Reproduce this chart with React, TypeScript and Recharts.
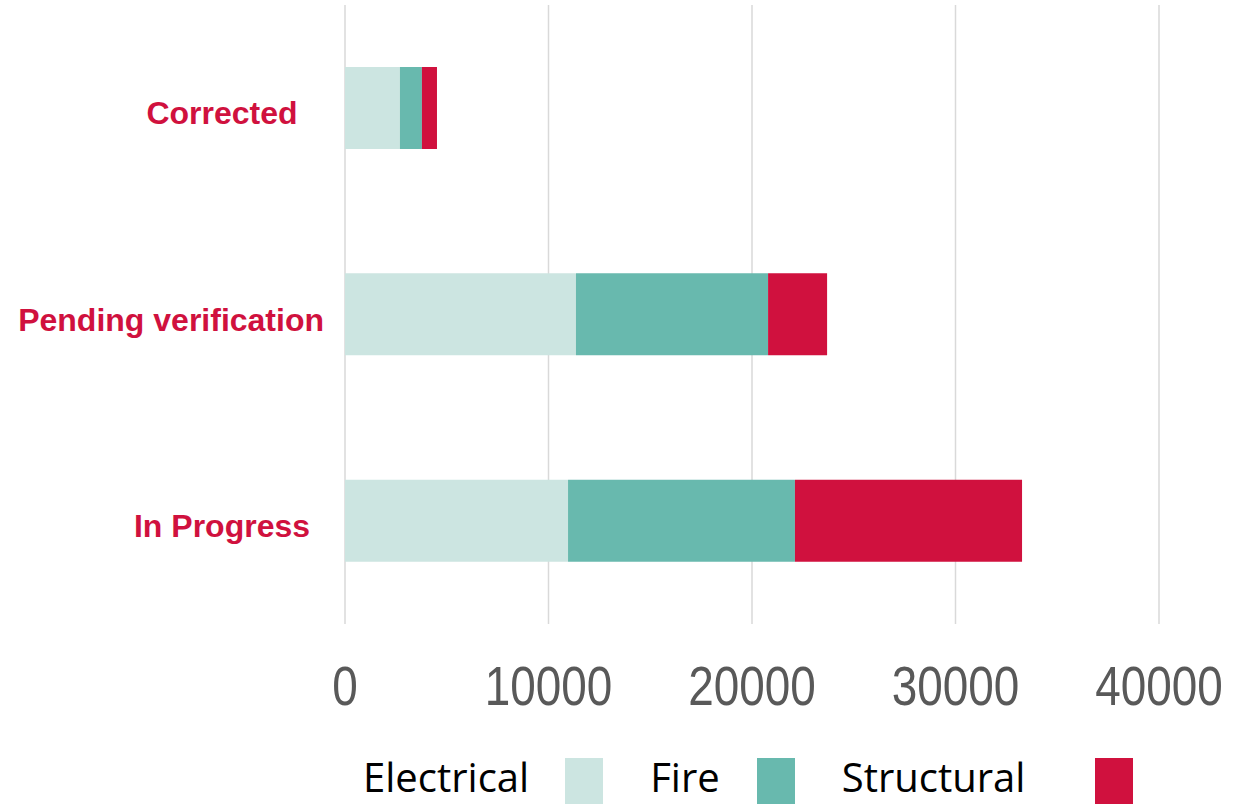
import React from 'react';
import { BarChart, Bar, XAxis, YAxis, CartesianGrid, Legend } from 'recharts';

const categories = ['Corrected', 'Pending verification', 'In Progress'];
const electrical = [2700, 11350, 10960];
const fire = [1080, 9440, 11150];
const structural = [740, 2900, 11160];
const xTicks = [0, 10000, 20000, 30000, 40000];
const seriesNames = ['Electrical', 'Fire', 'Structural'];
const seriesKeys = ['electrical', 'fire', 'structural'];
const seriesColors = ['#CCE5E1', '#68B9AE', '#D0113E'];

const data = categories.map((name, i) => ({
  name,
  electrical: electrical[i],
  fire: fire[i],
  structural: structural[i],
}));

const LABEL_FONT = 'bold 32px "Liberation Sans", Arial, sans-serif';
let measureCtx: CanvasRenderingContext2D | null = null;
function measure(text: string): number {
  if (!measureCtx) {
    const c = document.createElement('canvas');
    measureCtx = c.getContext('2d');
  }
  if (!measureCtx) return text.length * 16;
  measureCtx.font = LABEL_FONT;
  return measureCtx.measureText(text).width;
}

const CategoryTick = (props: any) => {
  const { y, payload } = props;
  const text = String(payload.value);
  const w = measure(text);
  const center = 222;
  const maxRight = 324;
  const right = Math.min(center + w / 2, maxRight);
  return (
    <text
      x={right}
      y={y + 5}
      textAnchor="end"
      dominantBaseline="central"
      fill="#D0113E"
      style={{ font: LABEL_FONT }}
    >
      {text}
    </text>
  );
};

const ValueTick = (props: any) => {
  const { x, y, payload } = props;
  return (
    <g transform={`translate(${x},${y}) scale(0.82,1)`}>
      <text
        x={0}
        y={0}
        dy={40}
        textAnchor="middle"
        fill="#595959"
        style={{ fontFamily: '"Liberation Sans", Arial, sans-serif', fontSize: 56 }}
      >
        {payload.value}
      </text>
    </g>
  );
};

const textGaps = [36, 37, 70];
const LegendContent = () => (
  <div style={{ display: 'flex', alignItems: 'flex-start' }}>
    {seriesNames.map((n, i) => (
      <div key={n} style={{ display: 'flex', alignItems: 'flex-start', marginRight: i < 2 ? 47 : 0 }}>
        <span
          style={{
            fontFamily: '"Open Sans", sans-serif',
            fontSize: 40,
            lineHeight: '36px',
            marginTop: 1,
            color: '#000',
            whiteSpace: 'nowrap',
          }}
        >
          {n}
        </span>
        <span
          style={{
            display: 'inline-block',
            width: 38,
            height: 46,
            marginLeft: textGaps[i],
            background: seriesColors[i],
          }}
        />
      </div>
    ))}
  </div>
);

export default function App() {
  return (
    <div style={{ position: 'absolute', left: 0, top: 0, width: 1250, height: 805, background: '#fff' }}>
      <BarChart
        width={1250}
        height={805}
        data={data}
        layout="vertical"
        margin={{ top: 5, right: 91, left: 0, bottom: 70 }}
        barSize={82}
      >
        <CartesianGrid horizontal={false} stroke="#D9D9D9" strokeWidth={1.5} />
        <XAxis
          type="number"
          domain={[0, 40000]}
          ticks={xTicks}
          axisLine={false}
          tickLine={false}
          tickSize={0}
          tickMargin={41}
          height={111}
          interval={0}
          tick={<ValueTick />}
        />
        <YAxis
          type="category"
          dataKey="name"
          width={345}
          axisLine={false}
          tickLine={false}
          tick={<CategoryTick />}
          interval={0}
        />
        <Legend
          layout="horizontal"
          verticalAlign="middle"
          align="center"
          content={<LegendContent />}
          wrapperStyle={{ left: 363, top: 758, width: 887, height: 46 }}
        />
        {seriesKeys.map((k, i) => (
          <Bar key={k} dataKey={k} stackId="a" fill={seriesColors[i]} isAnimationActive={false} />
        ))}
      </BarChart>
    </div>
  );
}
